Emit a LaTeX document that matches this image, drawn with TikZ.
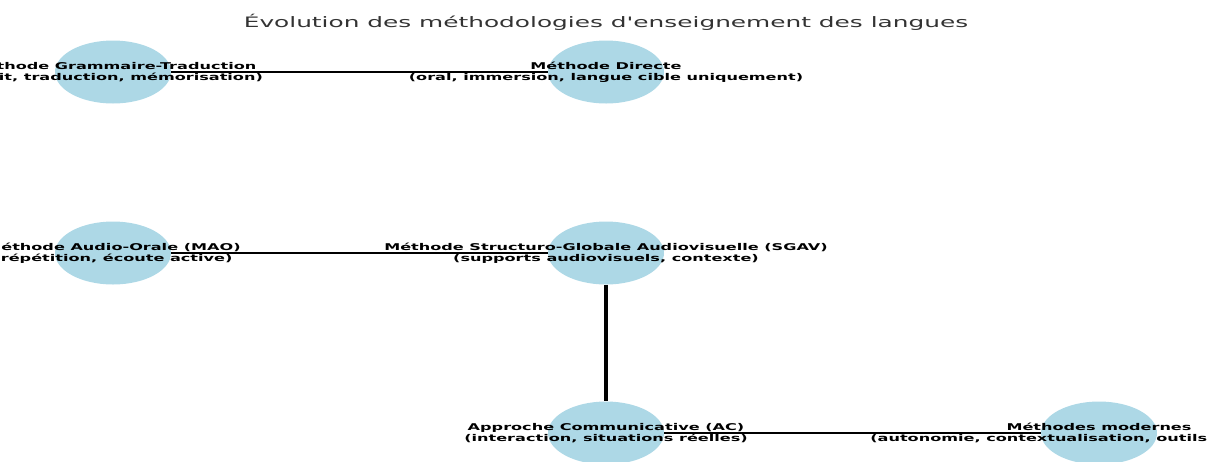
\documentclass[tikz,border=0pt]{standalone}
\usepackage{fontspec}
\setmainfont{DejaVu Sans}
\newfontfamily\titlefont{DejaVu Sans}
\usetikzlibrary{shapes.geometric}
\definecolor{nodeblue}{HTML}{ADD8E6}

\begin{document}
\begin{tikzpicture}[
    x=1pt, y=-1pt,
    method/.style={
        ellipse,
        fill=nodeblue,
        minimum width=116pt,
        minimum height=63pt,
        inner sep=0pt
    },
    lbl/.style={
        align=center,
        inner sep=0pt,
        yscale=0.58,
        transform shape,
        font=\fontsize{16.1}{18.3}\selectfont\bfseries
    },
    link/.style={line width=2pt}
]

\useasboundingbox (0,0) rectangle (1207,461);
\clip (0,0) rectangle (1207,461);

\node[lbl, font=\titlefont\fontsize{24.8}{30}\selectfont, text=black!80] (title) at (606,22)
    {Évolution des méthodologies d'enseignement des langues};

\node[method] (gt) at (113,72) {};
\node[method] (direct) at (606,72) {};
\node[method] (mao) at (113,253) {};
\node[method] (sgav) at (606,253) {};
\node[method] (ac) at (606,433) {};
\node[method] (modern) at (1099,433) {};

\draw[link] (gt) -- (direct);
\draw[link] (mao) -- (sgav);
\draw[link, line width=3.5pt] (sgav) -- (ac);
\draw[link] (ac) -- (modern);

\node[lbl] (gt-lbl) at (gt.center) {Méthode Grammaire-Traduction\\(écrit, traduction, mémorisation)};
\node[lbl] (direct-lbl) at (direct.center) {Méthode Directe\\(oral, immersion, langue cible uniquement)};
\node[lbl] (mao-lbl) at (mao.center) {Méthode Audio-Orale (MAO)\\(répétition, écoute active)};
\node[lbl] (sgav-lbl) at (sgav.center) {Méthode Structuro-Globale Audiovisuelle (SGAV)\\(supports audiovisuels, contexte)};
\node[lbl] (ac-lbl) at (ac.center) {Approche Communicative (AC)\\(interaction, situations réelles)};
\node[lbl] (modern-lbl) at (modern.center) {Méthodes modernes\\(autonomie, contextualisation, outils numériques)};

\end{tikzpicture}
\end{document}
